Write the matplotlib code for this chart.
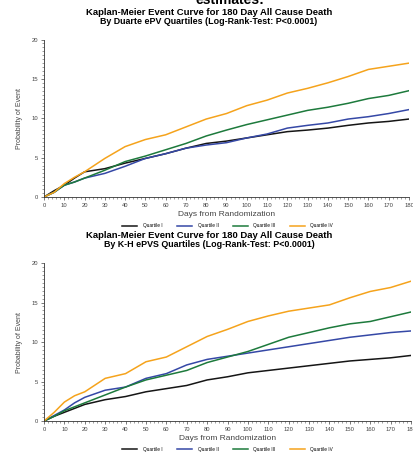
import matplotlib
matplotlib.use('Agg')
import matplotlib.pyplot as plt
from matplotlib.ticker import MultipleLocator

plt.rcParams['font.family'] = ['Liberation Sans', 'DejaVu Sans']

# Data (probability of event, %)
days = [0, 5, 10, 15, 20, 30, 40, 50, 60, 70, 80, 90, 100,
        110, 120, 130, 140, 150, 160, 170, 180]

duarte_q1 = [0, 0.8, 1.5, 2.4, 3.2, 3.6, 4.3, 4.9, 5.5, 6.2, 6.8, 7.1, 7.5,
             7.9, 8.3, 8.5, 8.75, 9.1, 9.4, 9.6, 9.9]
duarte_q2 = [0, 0.6, 1.5, 1.9, 2.4, 3.0, 3.9, 4.9, 5.5, 6.2, 6.6, 6.9, 7.5,
             8.0, 8.75, 9.1, 9.4, 9.9, 10.2, 10.6, 11.1]
duarte_q3 = [0, 0.6, 1.5, 1.9, 2.4, 3.4, 4.5, 5.2, 6.0, 6.8, 7.75, 8.5, 9.2,
             9.8, 10.4, 11.0, 11.4, 11.9, 12.5, 12.9, 13.5]
duarte_q4 = [0, 0.6, 1.7, 2.5, 3.2, 4.9, 6.4, 7.3, 7.9, 8.9, 9.9, 10.6, 11.6,
             12.3, 13.2, 13.8, 14.5, 15.3, 16.2, 16.6, 17.0]

kh_q1 = [0, 0.6, 1.1, 1.6, 2.1, 2.7, 3.1, 3.7, 4.1, 4.5, 5.2, 5.6, 6.1,
         6.4, 6.7, 7.0, 7.3, 7.6, 7.8, 8.0, 8.3]
kh_q2 = [0, 0.7, 1.4, 2.3, 3.0, 3.9, 4.3, 5.4, 6.0, 7.1, 7.8, 8.2, 8.6,
         9.0, 9.4, 9.8, 10.2, 10.6, 10.9, 11.2, 11.4]
kh_q3 = [0, 0.6, 1.3, 1.8, 2.3, 3.3, 4.3, 5.2, 5.8, 6.4, 7.4, 8.1, 8.8,
         9.7, 10.6, 11.2, 11.8, 12.3, 12.6, 13.2, 13.8]
kh_q4 = [0, 1.1, 2.4, 3.2, 3.7, 5.4, 6.0, 7.5, 8.1, 9.4, 10.7, 11.6, 12.6,
         13.3, 13.9, 14.3, 14.7, 15.6, 16.4, 16.9, 17.7]

labels = ['Quartile I', 'Quartile II', 'Quartile III', 'Quartile IV']
colors = ['#151515', '#3548a6', '#1d7a3c', '#f5a31c']

xticks = list(range(0, 181, 10))
yticks = [0, 5, 10, 15, 20]

fig = plt.figure(figsize=(4.14, 4.53), dpi=100, facecolor='white')

fig.text(0.555, 1.0, 'estimates:', ha='center', va='center',
         fontsize=10, fontweight='bold')


def km_panel(rect, series, title, subtitle, title_y, legend_y):
    ax = fig.add_axes(rect)
    for vals, c, lab in zip(series, colors, labels):
        ax.plot(days, vals, color=c, linewidth=1.1, label=lab)
    ax.set_xlim(0, 180)
    ax.set_ylim(0, 20)
    ax.set_xticks(xticks)
    ax.set_yticks(yticks)
    ax.xaxis.set_minor_locator(MultipleLocator(2))
    ax.yaxis.set_minor_locator(MultipleLocator(0.5))
    ax.tick_params(which='major', length=2.5, width=0.5, labelsize=4.2,
                   colors='#444444', pad=2)
    ax.tick_params(which='minor', length=1.5, width=0.4, colors='#555555')
    for s in ['top', 'right']:
        ax.spines[s].set_visible(False)
    for s in ['left', 'bottom']:
        ax.spines[s].set_linewidth(0.6)
        ax.spines[s].set_color('#333333')
    ax.set_xlabel('Days from Randomization', fontsize=6, color='#444444',
                  labelpad=2)
    ax.set_ylabel('Probability of Event', fontsize=5, color='#444444',
                  labelpad=6)
    fig.legend(*ax.get_legend_handles_labels(), loc='center',
               bbox_to_anchor=(0.55, legend_y), ncol=4, frameon=False,
               fontsize=3.4, handlelength=3.2, columnspacing=3.0,
               handletextpad=1.2, borderpad=0)
    fig.text(0.505, title_y, title, ha='center', va='center', fontsize=6.8,
             fontweight='bold')
    fig.text(0.505, title_y - 0.02, subtitle, ha='center', va='center',
             fontsize=6.4, fontweight='bold')
    return ax


km_panel([0.1063, 0.5651, 0.8816, 0.3477],
         [duarte_q1, duarte_q2, duarte_q3, duarte_q4],
         'Kaplan-Meier Event Curve for 180 Day All Cause Death',
         'By Duarte ePV Quartiles (Log-Rank-Test: P<0.0001)',
         1 - 12.5 / 453, 1 - 226 / 453)

km_panel([0.1063, 0.0706, 0.8865, 0.3488],
         [kh_q1, kh_q2, kh_q3, kh_q4],
         'Kaplan-Meier Event Curve for 180 Day All Cause Death',
         'By K-H ePVS Quartiles (Log-Rank-Test: P<0.0001)',
         1 - 235 / 453, 1 - 449.5 / 453)

plt.savefig('out.png', dpi=100, facecolor='white')
